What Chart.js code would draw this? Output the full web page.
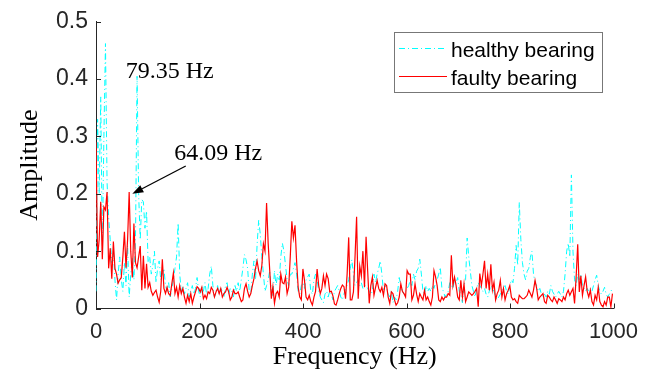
<!DOCTYPE html>
<html><head><meta charset="utf-8">
<script src="https://cdn.jsdelivr.net/npm/chart.js@4.4.0/dist/chart.umd.min.js"></script>
<style>html,body{margin:0;padding:0;background:#fff;}#wrap{width:648px;height:385px;position:relative;}canvas{display:block;}</style>
</head><body><div id="wrap"><canvas id="c" width="648" height="385"></canvas></div>
<script>
// FFT bin spacing of the spectrum (Hz)
const binWidthHz = 3.0518;
const seriesNames = ['healthy bearing', 'faulty bearing'];
const xTicks = [0, 200, 400, 600, 800, 1000];
const yTicks = [0, 0.1, 0.2, 0.3, 0.4, 0.5];
const xTickLabels = ['0', '200', '400', '600', '800', '1000'];
const yTickLabels = ['0', '0.1', '0.2', '0.3', '0.4', '0.5'];
const xTitle = 'Frequency (Hz)';
const yTitle = 'Amplitude';
const healthyAmplitude = [
0.03,0.33,0.2,0.369,0.1,0.3,0.462,0.22,0.16,0.12,
0.08,0.1,0.05,0.015,0.06,0.09,0.05,0.03,0.08,0.04,
0.11,0.02,0.06,0.09,0.05,0.12,0.405,0.2,0.12,0.19,
0.186,0.14,0.17,0.08,0.09,0.06,0.075,0.1,0.045,0.07,
0.083,0.05,0.06,0.07,0.04,0.03,0.045,0.02,0.035,0.05,
0.07,0.09,0.149,0.06,0.03,0.04,0.025,0.035,0.045,0.02,
0.03,0.04,0.025,0.035,0.054,0.03,0.02,0.04,0.03,0.045,
0.025,0.035,0.06,0.074,0.04,0.02,0.03,0.04,0.025,0.035,
0.03,0.02,0.04,0.045,0.025,0.035,0.03,0.02,0.04,0.03,
0.045,0.03,0.05,0.07,0.094,0.085,0.07,0.03,0.025,0.06,
0.083,0.05,0.111,0.154,0.13,0.09,0.06,0.03,0.04,0.05,
0.066,0.03,0.02,0.066,0.04,0.06,0.05,0.09,0.114,0.1,
0.075,0.05,0.04,0.06,0.06,0.07,0.08,0.06,0.03,0.025,
0.04,0.045,0.035,0.05,0.055,0.06,0.03,0.025,0.05,0.06,
0.05,0.03,0.02,0.015,0.01,0.025,0.03,0.02,0.03,0.025,
0.015,0.03,0.035,0.04,0.03,0.02,0.015,0.025,0.035,0.04,
0.05,0.07,0.085,0.06,0.04,0.045,0.05,0.04,0.045,0.035,
0.04,0.04,0.035,0.03,0.025,0.03,0.06,0.045,0.06,0.07,
0.083,0.06,0.03,0.04,0.035,0.025,0.02,0.03,0.01,0.02,
0.015,0.03,0.054,0.04,0.03,0.025,0.03,0.035,0.04,0.05,
0.04,0.06,0.05,0.065,0.07,0.086,0.06,0.03,0.025,0.04,
0.03,0.035,0.03,0.04,0.035,0.045,0.05,0.06,0.072,0.035,
0.03,0.02,0.025,0.03,0.045,0.04,0.035,0.05,0.045,0.054,
0.03,0.025,0.01,0.04,0.05,0.123,0.09,0.065,0.04,0.03,
0.02,0.035,0.045,0.04,0.035,0.03,0.035,0.025,0.02,0.03,
0.04,0.035,0.03,0.02,0.015,0.02,0.025,0.03,0.035,0.04,
0.03,0.025,0.04,0.05,0.045,0.07,0.11,0.075,0.185,0.12,
0.08,0.06,0.05,0.065,0.07,0.089,0.1,0.06,0.045,0.04,
0.03,0.035,0.025,0.02,0.025,0.02,0.03,0.025,0.04,0.03,
0.025,0.02,0.025,0.03,0.025,0.02,0.03,0.06,0.1,0.114,
0.09,0.233,0.1,0.05,0.04,0.06,0.05,0.06,0.04,0.035,
0.03,0.035,0.03,0.035,0.03,0.04,0.05,0.058,0.04,0.03,
0.025,0.03,0.037,0.025,0.02,0.025,0.03,0.035
];
const faultyAmplitude = [
0.29,0.09,0.12,0.186,0.086,0.177,0.172,0.203,0.07,0.105,
0.052,0.117,0.07,0.06,0.044,0.05,0.054,0.09,0.134,0.071,
0.12,0.203,0.1,0.054,0.148,0.08,0.071,0.09,0.109,0.032,
0.092,0.035,0.078,0.037,0.045,0.03,0.023,0.028,0.032,0.02,
0.011,0.03,0.086,0.035,0.026,0.037,0.026,0.023,0.043,0.062,
0.026,0.037,0.02,0.04,0.026,0.035,0.02,0.009,0.023,0.012,
0.026,0.009,0.02,0.029,0.038,0.035,0.029,0.037,0.017,0.023,
0.017,0.029,0.026,0.037,0.032,0.02,0.029,0.035,0.026,0.035,
0.02,0.026,0.029,0.037,0.029,0.015,0.02,0.032,0.026,0.026,
0.029,0.02,0.012,0.015,0.035,0.043,0.03,0.02,0.026,0.04,
0.052,0.07,0.083,0.066,0.057,0.075,0.113,0.1,0.184,0.114,
0.066,0.017,0.038,0.009,0.026,0.03,0.02,0.06,0.045,0.043,
0.055,0.026,0.037,0.09,0.152,0.123,0.145,0.083,0.037,0.02,
0.015,0.069,0.049,0.02,0.015,0.023,0.012,0.006,0.02,0.03,
0.069,0.04,0.026,0.035,0.057,0.04,0.06,0.052,0.029,0.03,
0.022,0.008,0.006,0.015,0.026,0.035,0.041,0.038,0.017,0.06,
0.124,0.015,0.015,0.029,0.09,0.16,0.017,0.074,0.057,0.1,
0.037,0.125,0.066,0.009,0.04,0.055,0.023,0.037,0.049,0.035,
0.029,0.037,0.023,0.043,0.04,0.02,0.009,0.029,0.026,0.015,
0.006,0.01,0.02,0.043,0.03,0.026,0.02,0.066,0.06,0.06,
0.015,0.023,0.043,0.025,0.012,0.026,0.02,0.015,0.032,0.015,
0.02,0.012,0.006,0.02,0.066,0.055,0.04,0.015,0.012,0.02,
0.015,0.02,0.02,0.026,0.023,0.093,0.04,0.055,0.04,0.02,
0.015,0.049,0.02,0.043,0.012,0.02,0.029,0.026,0.023,0.026,
0.03,0.035,0.003,0.061,0.04,0.06,0.083,0.035,0.06,0.032,
0.077,0.032,0.046,0.015,0.026,0.032,0.049,0.02,0.035,0.015,
0.026,0.032,0.04,0.02,0.015,0.017,0.012,0.009,0.023,0.02,
0.017,0.017,0.02,0.023,0.032,0.026,0.02,0.032,0.049,0.035,
0.015,0.02,0.023,0.026,0.012,0.009,0.023,0.02,0.015,0.012,
0.02,0.015,0.009,0.017,0.015,0.012,0.02,0.015,0.026,0.032,
0.023,0.029,0.035,0.009,0.055,0.112,0.029,0.057,0.023,0.04,
0.055,0.03,0.02,0.032,0.012,0.006,0.023,0.015,0.037,0.012,
0.006,0.003,0.012,0.006,0.02,0.02,0.003,0.026
];
// annotation texts and arrow (data coordinates)
const labelTexts = ['79.35 Hz', '64.09 Hz'];
const labelAnchors = [[57.4, 0.4015], [151, 0.259]];
const arrowFrom = [173.4, 0.2486];
const arrowTo = [70.2, 0.2];

const frequencies = healthyAmplitude.map((_, i) => +(i * binWidthHz).toFixed(2));
const toPoints = arr => arr.map((v, i) => ({x: frequencies[i], y: v}));

const AXIS = '#262626';
const decor = {
  id: 'decor',
  afterDraw(chart) {
    const ctx = chart.ctx, xs = chart.scales.x, ys = chart.scales.y, ca = chart.chartArea;
    ctx.save();
    // inward tick marks
    ctx.strokeStyle = AXIS; ctx.lineWidth = 1;
    ctx.beginPath();
    xTicks.forEach(v => { const p = Math.round(xs.getPixelForValue(v)) + 0.5; ctx.moveTo(p, ca.bottom); ctx.lineTo(p, ca.bottom - 5); });
    yTicks.forEach(v => { const p = Math.round(ys.getPixelForValue(v)) + 0.5; ctx.moveTo(ca.left, p); ctx.lineTo(ca.left + 5, p); });
    ctx.stroke();
    // annotation texts
    ctx.fillStyle = '#000';
    ctx.font = '24px "Liberation Serif", "Times New Roman", serif';
    ctx.textBaseline = 'alphabetic'; ctx.textAlign = 'left';
    labelTexts.forEach((t, i) => ctx.fillText(t, xs.getPixelForValue(labelAnchors[i][0]), ys.getPixelForValue(labelAnchors[i][1])));
    // arrow
    const x1 = xs.getPixelForValue(arrowFrom[0]), y1 = ys.getPixelForValue(arrowFrom[1]);
    const x2 = xs.getPixelForValue(arrowTo[0]), y2 = ys.getPixelForValue(arrowTo[1]);
    const ang = Math.atan2(y2 - y1, x2 - x1), hl = 11, hw = 4;
    const bx = x2 - hl * Math.cos(ang), by = y2 - hl * Math.sin(ang);
    ctx.strokeStyle = '#000'; ctx.lineWidth = 1.3;
    ctx.beginPath(); ctx.moveTo(x1, y1); ctx.lineTo(bx, by); ctx.stroke();
    ctx.beginPath();
    ctx.moveTo(x2, y2);
    ctx.lineTo(bx + hw * Math.sin(ang), by - hw * Math.cos(ang));
    ctx.lineTo(bx - hw * Math.sin(ang), by + hw * Math.cos(ang));
    ctx.closePath(); ctx.fill();
    // legend box
    const lx = 394.5, ly = 32.5, lw = 208, lh = 60;
    ctx.fillStyle = '#fff'; ctx.fillRect(lx, ly, lw, lh);
    ctx.strokeStyle = '#777'; ctx.lineWidth = 1; ctx.strokeRect(lx, ly, lw, lh);
    const rows = [48.5, 76.5], bases = [56.5, 84.5];
    chart.data.datasets.forEach((ds, i) => {
      ctx.strokeStyle = ds.borderColor; ctx.lineWidth = ds.borderWidth;
      ctx.setLineDash(ds.borderDash || []);
      ctx.beginPath(); ctx.moveTo(399, rows[i]); ctx.lineTo(447, rows[i]); ctx.stroke();
      ctx.setLineDash([]);
      ctx.fillStyle = '#000';
      ctx.font = '21px "Liberation Sans", Arial, sans-serif';
      ctx.fillText(ds.label, 451, bases[i]);
    });
    ctx.restore();
  }
};

new Chart(document.getElementById('c'), {
  type: 'line',
  data: {
    datasets: [
      {label: seriesNames[0], data: toPoints(healthyAmplitude), borderColor: '#00FFFF', borderWidth: 1, borderDash: [6, 3, 1, 3], pointRadius: 0, tension: 0, order: 1},
      {label: seriesNames[1], data: toPoints(faultyAmplitude), borderColor: '#FF0000', borderWidth: 1.2, pointRadius: 0, tension: 0, order: 0}
    ]
  },
  options: {
    responsive: false, animation: false, devicePixelRatio: 1,
    layout: {padding: {top: 17, right: 28, left: 0, bottom: 0}},
    plugins: {legend: {display: false}, tooltip: {enabled: false}},
    scales: {
      x: {
        type: 'linear', min: 0, max: 1000,
        afterBuildTicks: s => { s.ticks = xTicks.map(v => ({value: v})); },
        afterFit: s => { s.height = 76.5; },
        grid: {display: false, drawTicks: false},
        border: {display: true, color: AXIS, width: 1},
        ticks: {color: AXIS, padding: 10, maxRotation: 0, font: {family: '"Liberation Sans", Arial, sans-serif', size: 22},
          callback: v => xTickLabels[xTicks.indexOf(v)]},
        title: {display: true, text: xTitle, color: '#000', font: {family: '"Liberation Serif", "Times New Roman", serif', size: 26}, padding: {top: 0, bottom: 12}}
      },
      y: {
        type: 'linear', min: 0, max: 0.5,
        afterBuildTicks: s => { s.ticks = yTicks.map(v => ({value: v})); },
        afterFit: s => { s.width = 96; },
        grid: {display: false, drawTicks: false},
        border: {display: true, color: AXIS, width: 1},
        ticks: {color: AXIS, padding: 8, font: {family: '"Liberation Sans", Arial, sans-serif', size: 23},
          callback: v => yTickLabels[yTicks.findIndex(t => Math.abs(t - v) < 1e-9)]},
        title: {display: true, text: yTitle, color: '#000', font: {family: '"Liberation Serif", "Times New Roman", serif', size: 26}, padding: {top: 15, bottom: 0}}
      }
    }
  },
  plugins: [decor]
});
</script>
</body></html>
